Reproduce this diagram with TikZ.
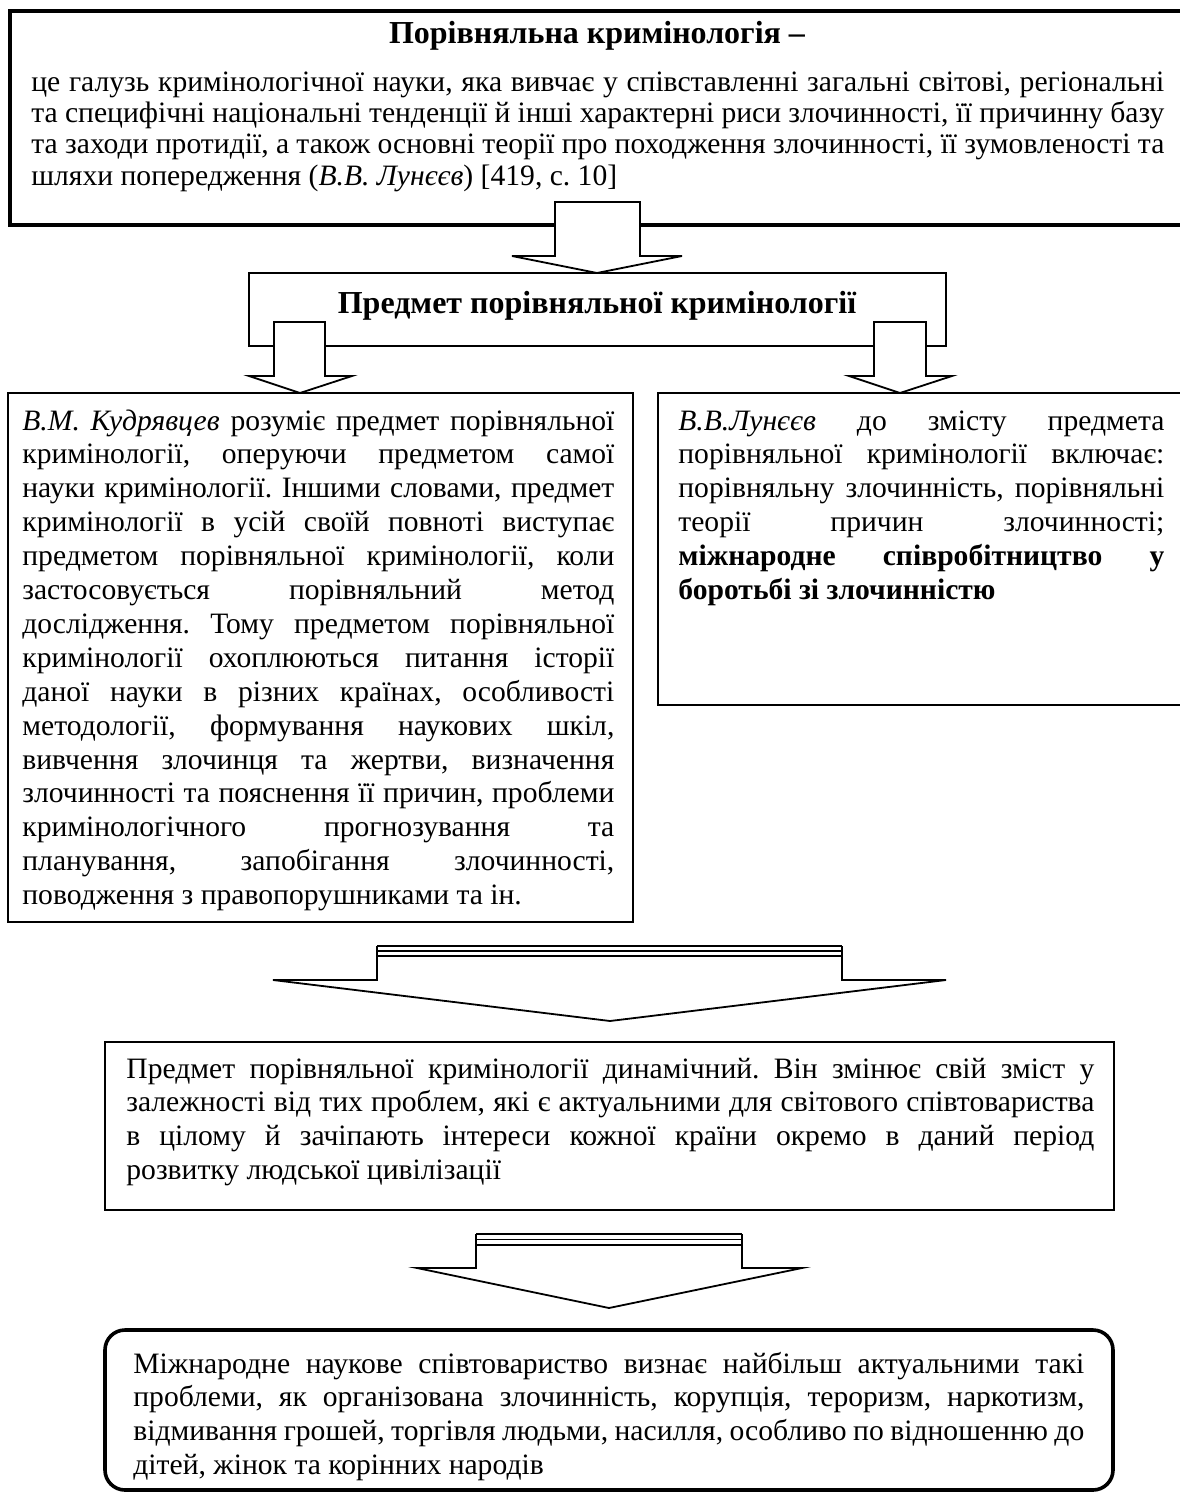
\documentclass[tikz,border=0pt]{standalone}
\usepackage{fontspec}
\setmainfont{Liberation Serif}
\newcommand{\bodyfont}{\fontsize{14.8pt}{16.95pt}\selectfont}
\newcommand{\deffont}{\fontsize{14.8pt}{15.75pt}\selectfont}
\newcommand{\headfont}{\fontsize{16pt}{18pt}\selectfont\bfseries}
\hbadness=10000
\hfuzz=20pt
\hyphenpenalty=10000
\frenchspacing

\begin{document}
\begin{tikzpicture}[x=0.5pt, y=-0.5pt,
  frame/.style={draw, line width=1pt},
  blockarrow/.style={draw, fill=white, line width=0.9pt},
  every node/.style={inner sep=0pt, anchor=base west, align=justify, font=\bodyfont}]
\useasboundingbox (0,0) rectangle (1179,1493);
\draw[frame, line width=2pt] (10,11) rectangle (1190,225);
\draw[frame] (249,273) rectangle (946,346);
\draw[frame, line width=1.3pt] (8,393) rectangle (633,922);
\draw[frame] (658,393) rectangle (1190,705);
\draw[frame, line width=1.4pt] (105,1042) rectangle (1114,1210);
\draw[frame, line width=1.8pt, rounded corners=10pt] (105,1330) rectangle (1113,1490);
\draw[blockarrow] (555,202) -- (640,202) -- (640,256) -- (682,256) -- (597,273) -- (512,256) -- (555,256) -- cycle;
\draw[blockarrow] (274,322) -- (325,322) -- (325,376) -- (352,376) -- (300,393) -- (249,376) -- (274,376) -- cycle;
\draw[blockarrow] (874,322) -- (926,322) -- (926,376) -- (952,376) -- (900,393) -- (849,376) -- (874,376) -- cycle;
\draw[blockarrow] (377,956) -- (842,956) -- (842,980) -- (946,980) -- (610,1021) -- (273,980) -- (377,980) -- cycle;
\draw[line width=1.2pt] (377,946) -- (842,946);
\draw[line width=0.6pt] (377,951) -- (842,951) (377,946) -- (377,956) (842,946) -- (842,956);
\draw[blockarrow] (476,1245) -- (742,1245) -- (742,1268) -- (802,1268) -- (609,1308) -- (417,1268) -- (476,1268) -- cycle;
\draw[line width=1.2pt] (476,1234) -- (742,1234);
\draw[line width=0.6pt] (476,1239.5) -- (742,1239.5) (476,1234) -- (476,1245) (742,1234) -- (742,1245);
\node[font=\headfont, anchor=base, align=center] (deftitle) at (597,44) {Порівняльна кримінологія –};
\node[text width=566.5pt, font=\deffont] (defbody) at (31,91) {це галузь кримінологічної науки, яка вивчає у співставленні загальні світові, регіональні\linebreak та специфічні національні тенденції й інші характерні риси злочинності, її причинну базу\linebreak та заходи протидії, а також основні теорії про походження злочинності, її зумовленості та\linebreak шляхи попередження (\textit{В.В. Лунєєв}) [419, с. 10]};
\node[font=\headfont, anchor=base, align=center] (subject) at (597,313) {Предмет порівняльної кримінології};
\node[text width=296pt] (kudr) at (22,430) {\textit{В.М. Кудрявцев} розуміє предмет порівняльної\linebreak кримінології, оперуючи предметом самої\linebreak науки кримінології. Іншими словами, предмет\linebreak кримінології в усій своїй повноті виступає\linebreak предметом порівняльної кримінології, коли\linebreak застосовується порівняльний метод\linebreak дослідження. Тому предметом порівняльної\linebreak кримінології охоплюються питання історії\linebreak даної науки в різних країнах, особливості\linebreak методології, формування наукових шкіл,\linebreak вивчення злочинця та жертви, визначення\linebreak злочинності та пояснення її причин, проблеми\linebreak кримінологічного прогнозування та\linebreak планування, запобігання злочинності,\linebreak поводження з правопорушниками та ін.};
\node[text width=243pt] (luneev) at (678,430) {\textit{В.В.Лунєєв} до змісту предмета\linebreak порівняльної кримінології включає:\linebreak порівняльну злочинність, порівняльні\linebreak теорії причин злочинності;\linebreak \textbf{міжнародне співробітництво у\linebreak боротьбі зі злочинністю}};
\node[text width=484pt] (dynamic) at (126,1078) {Предмет порівняльної кримінології динамічний. Він змінює свій зміст у\linebreak залежності від тих проблем, які є актуальними для світового співтовариства\linebreak в цілому й зачіпають інтереси кожної країни окремо в даний період\linebreak розвитку людської цивілізації};
\node[text width=475.5pt] (problems) at (133,1373) {Міжнародне наукове співтовариство визнає найбільш актуальними такі\linebreak проблеми, як організована злочинність, корупція, тероризм, наркотизм,\linebreak відмивання грошей, торгівля людьми, насилля, особливо по відношенню до\linebreak дітей, жінок та корінних народів};
\end{tikzpicture}
\end{document}
